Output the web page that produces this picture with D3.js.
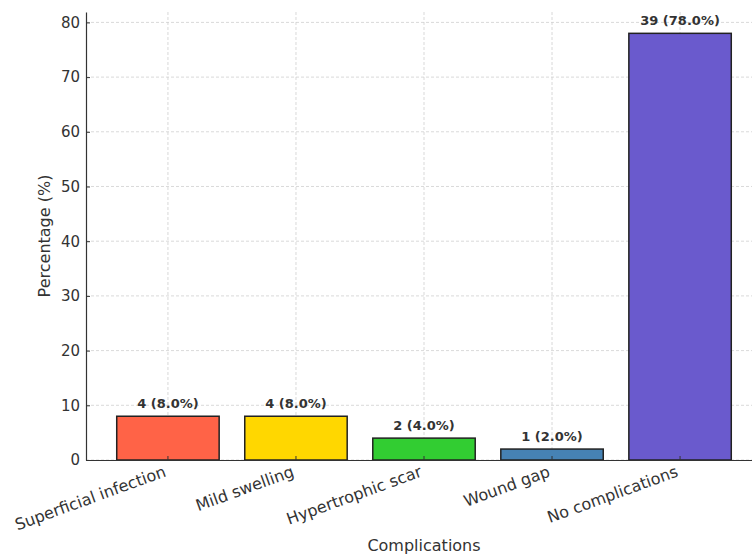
<!DOCTYPE html>
<html>
<head>
<meta charset="utf-8">
<script src="https://cdn.jsdelivr.net/npm/d3@7"></script>
<style>
  html, body { margin: 0; padding: 0; background: #fff; }
  svg { display: block; font-family: "DejaVu Sans", sans-serif; }
</style>
</head>
<body>
<svg id="chart" width="752" height="556"></svg>
<script>
// Post-operative complications: counts and share of patients (%)
const categories = ["Superficial infection", "Mild swelling", "Hypertrophic scar", "Wound gap", "No complications"];
const counts = [4, 4, 2, 1, 39];
const percentages = [8.0, 8.0, 4.0, 2.0, 78.0];
const barColors = ["#FF6347", "#FFD700", "#32CD32", "#4682B4", "#6A5ACD"];
const yTicks = [0, 10, 20, 30, 40, 50, 60, 70, 80];

const svg = d3.select("#chart");
const plot = { left: 86, right: 762, top: 12, bottom: 460 };

const x = d3.scaleBand()
  .domain(categories)
  .range([plot.left, plot.right])
  .paddingInner(0.2)
  .paddingOuter(0.24);

const y = d3.scaleLinear()
  .domain([0, 81.9])
  .range([plot.bottom, plot.top]);

const textColor = "#333";

// grid lines
const grid = svg.append("g");
grid.selectAll("line.hy").data(yTicks).join("line")
  .attr("x1", plot.left).attr("x2", plot.right)
  .attr("y1", d => y(d)).attr("y2", d => y(d))
  .attr("stroke", "#cfcfcf").attr("stroke-width", 0.8)
  .attr("stroke-dasharray", "3,2");
grid.selectAll("line.vx").data(categories).join("line")
  .attr("x1", d => x(d) + x.bandwidth() / 2).attr("x2", d => x(d) + x.bandwidth() / 2)
  .attr("y1", plot.top).attr("y2", plot.bottom)
  .attr("stroke", "#cfcfcf").attr("stroke-width", 0.8)
  .attr("stroke-dasharray", "3,2");

// bars
svg.append("g").selectAll("rect").data(categories).join("rect")
  .attr("x", d => x(d))
  .attr("width", x.bandwidth())
  .attr("y", (d, i) => y(percentages[i]))
  .attr("height", (d, i) => y(0) - y(percentages[i]))
  .attr("fill", (d, i) => barColors[i])
  .attr("stroke", "#222")
  .attr("stroke-width", 1.5);

// value labels
svg.append("g").selectAll("text").data(categories).join("text")
  .attr("x", d => x(d) + x.bandwidth() / 2)
  .attr("y", (d, i) => y(percentages[i] + 1) - 3)
  .attr("text-anchor", "middle")
  .attr("font-size", 13)
  .attr("font-weight", "bold")
  .attr("fill", textColor)
  .text((d, i) => `${counts[i]} (${percentages[i].toFixed(1)}%)`);

// y axis
const yAxis = svg.append("g")
  .attr("transform", `translate(${plot.left},0)`)
  .call(d3.axisLeft(y).tickValues(yTicks).tickSizeInner(-4).tickSizeOuter(0).tickPadding(6));
yAxis.select(".domain").attr("stroke", textColor).attr("stroke-width", 1.2);
yAxis.selectAll(".tick line").attr("stroke", textColor);
yAxis.selectAll(".tick text").attr("font-size", 15).attr("fill", textColor)
  .attr("font-family", "DejaVu Sans, sans-serif");

// x axis
const xAxis = svg.append("g")
  .attr("transform", `translate(0,${plot.bottom})`)
  .call(d3.axisBottom(x).tickSizeInner(-4).tickSizeOuter(0).tickPadding(6));
xAxis.select(".domain").attr("stroke", textColor).attr("stroke-width", 1.2);
xAxis.selectAll(".tick line").attr("stroke", textColor);
xAxis.selectAll(".tick text")
  .attr("font-size", 16).attr("fill", textColor)
  .attr("font-family", "DejaVu Sans, sans-serif")
  .attr("text-anchor", "end")
  .attr("dy", null)
  .attr("y", 0)
  .attr("transform", "translate(-1,16) rotate(-20)");

// axis titles
svg.append("text")
  .attr("x", (plot.left + plot.right) / 2)
  .attr("y", 551)
  .attr("text-anchor", "middle")
  .attr("font-size", 16)
  .attr("fill", textColor)
  .text("Complications");

svg.append("text")
  .attr("transform", `translate(50,${(plot.top + plot.bottom) / 2}) rotate(-90)`)
  .attr("text-anchor", "middle")
  .attr("font-size", 16)
  .attr("fill", textColor)
  .text("Percentage (%)");
</script>
</body>
</html>
